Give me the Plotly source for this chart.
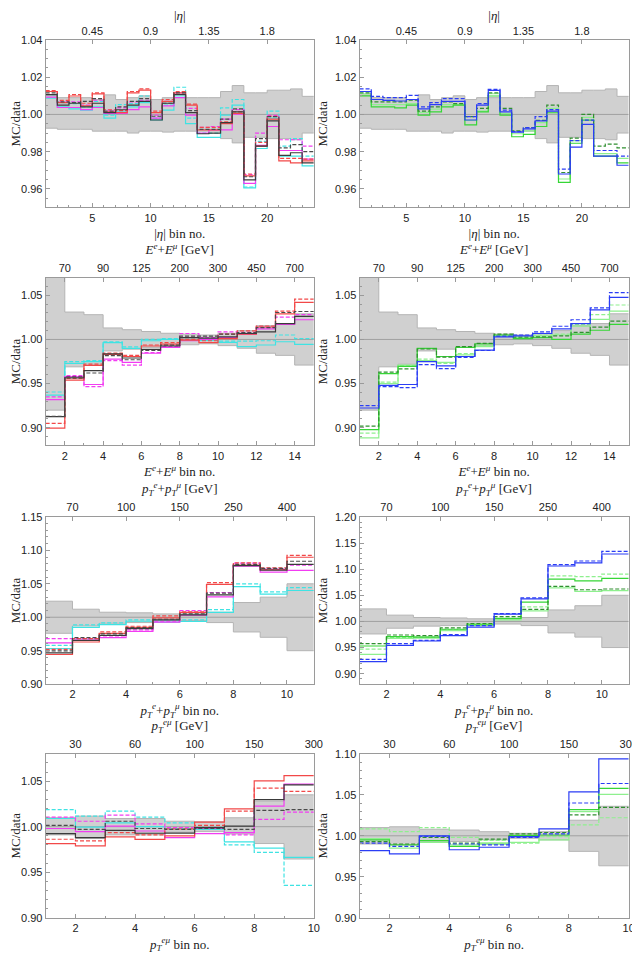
import plotly.graph_objects as go

# ---------------- data ----------------
# |eta| distribution, 23 bins
eta_band_hi = [1.0105, 1.009, 1.009, 1.009, 1.008, 1.0105, 1.008, 1.009, 1.010, 1.008, 1.009, 1.009,
               1.009, 1.009, 1.009, 1.0123, 1.0155, 1.0116, 1.0116, 1.013, 1.013, 1.0137, 1.0097]
eta_band_lo = [0.9926, 0.992, 0.992, 0.992, 0.991, 0.991, 0.991, 0.990, 0.991, 0.991, 0.9905, 0.991,
               0.991, 0.991, 0.991, 0.987, 0.9847, 0.9877, 0.9877, 0.987, 0.987, 0.9864, 0.990]
eta_left = {
    "cyan": [1.0088, 1.0041, 1.003, 1.0023, 1.0041, 0.998, 1.0014, 1.0041, 1.0063, 0.997, 1.0023, 1.0099,
             0.995, 0.9877, 0.9877, 0.9996, 1.005, 0.9605, 0.9817, 0.998, 0.9776, 0.9776, 0.9723],
    "cyan_d": [1.0106, 1.0063, 1.0058, 1.0041, 1.007, 0.9996, 1.0053, 1.0058, 1.0099, 0.998, 1.005, 1.0146,
               0.998, 0.990, 0.990, 1.0035, 1.008, 0.961, 0.9855, 1.0018, 0.983, 0.987, 0.9776],
    "magenta": [1.0093, 1.0037, 1.0037, 1.0026, 1.0037, 1.0005, 1.0005, 1.0026, 1.004, 0.998, 1.0046, 1.009,
                0.9996, 0.990, 0.9917, 0.9917, 1.0002, 0.963, 0.9834, 0.9935, 0.9806, 0.9806, 0.976],
    "magenta_d": [1.0123, 1.0067, 1.0067, 1.005, 1.0076, 1.0023, 1.0035, 1.0067, 1.0076, 0.9996, 1.007, 1.0116,
                  1.0032, 0.993, 0.9935, 0.9975, 1.0026, 0.9676, 0.990, 0.9995, 0.9864, 0.9864, 0.983],
    "red": [1.0123, 1.0063, 1.0099, 1.0046, 1.011, 1.0014, 1.001, 1.0116, 1.013, 1.001, 1.007, 1.0116,
            1.005, 0.9917, 0.9917, 0.995, 1.0005, 0.967, 0.983, 0.9975, 0.975, 0.974, 0.975],
    "red_d": [1.0128, 1.0075, 1.0106, 1.006, 1.0116, 1.0025, 1.002, 1.0123, 1.0137, 1.0018, 1.008, 1.0123,
              1.0055, 0.993, 0.993, 0.996, 1.0014, 0.968, 0.985, 0.999, 0.9764, 0.9764, 0.976],
    "black": [1.0106, 1.005, 1.006, 1.004, 1.006, 1.001, 1.0025, 1.005, 1.007, 0.997, 1.006, 1.0106,
              1.001, 0.9896, 0.990, 0.9956, 1.0014, 0.9648, 0.983, 0.9965, 0.978, 0.9794, 0.974],
    "black_d": [1.0116, 1.0067, 1.0064, 1.007, 1.0085, 1.0018, 1.004, 1.007, 1.0085, 0.999, 1.006, 1.0116,
                1.002, 0.992, 0.992, 0.9975, 1.003, 0.9665, 0.987, 0.9988, 0.982, 0.9838, 0.980],
}
eta_right = {
    "lgreen": [1.0111, 1.0053, 1.0053, 1.0053, 1.0058, 1.0011, 1.0028, 1.0053, 1.0053, 0.9968, 1.0018, 1.0111,
               1.0005, 0.9896, 0.9912, 0.9956, 1.0032, 0.9653, 0.9859, 0.9984, 0.9789, 0.9789, 0.9764],
    "green": [1.010, 1.004, 1.004, 1.0035, 1.005, 0.9996, 1.0014, 1.004, 1.005, 0.9944, 1.0014, 1.0099,
              0.9996, 0.988, 0.9893, 0.9935, 1.0009, 0.9635, 0.9845, 0.9969, 0.9776, 0.9776, 0.974],
    "green_d": [1.0116, 1.0067, 1.0067, 1.0067, 1.0076, 1.0018, 1.004, 1.0067, 1.0058, 0.9988, 1.0032, 1.0116,
                1.0032, 0.9912, 0.9929, 0.9968, 1.005, 0.9688, 0.9873, 1.000, 0.983, 0.984, 0.982],
    "blue": [1.0123, 1.008, 1.0075, 1.0072, 1.008, 1.003, 1.0053, 1.007, 1.007, 0.997, 1.005, 1.0129,
             1.0014, 0.9905, 0.9922, 0.9965, 1.0018, 0.968, 0.9824, 0.9947, 0.9776, 0.9776, 0.9727],
    "blue_d": [1.0137, 1.0097, 1.009, 1.009, 1.0102, 1.004, 1.0063, 1.0085, 1.0085, 0.9988, 1.0058, 1.0134,
               1.0023, 0.9908, 0.9929, 0.9988, 1.0026, 0.9706, 0.9859, 0.9969, 0.9806, 0.9806, 0.9776],
}

# E^e + E^mu, 14 bins
ee_band_hi = [1.08, 1.031, 1.028, 1.013, 1.011, 1.009, 1.007, 1.006, 1.005, 1.007, 1.010, 1.0156, 1.018, 1.029]
ee_band_lo = [0.92, 0.969, 0.972, 0.987, 0.989, 0.991, 0.993, 0.994, 0.995, 0.993, 0.990, 0.9844, 0.982, 0.971]
ee_left = {
    "cyan": [0.937, 0.973, 0.975, 0.9963, 0.990, 0.9985, 1.000, 0.999, 0.999, 0.9967, 0.9918, 0.9937, 0.9974, 0.9944],
    "cyan_d": [0.9405, 0.975, 0.976, 0.9974, 0.9915, 1.000, 1.001, 1.000, 1.000, 0.998, 0.998, 0.9985, 1.005, 1.001],
    "magenta": [0.932, 0.958, 0.949, 0.9777, 0.974, 0.9844, 0.991, 0.9985, 1.000, 1.002, 1.006, 1.012, 1.017, 1.0223],
    "magenta_d": [0.935, 0.959, 0.9465, 0.976, 0.971, 0.985, 0.992, 1.0067, 1.002, 1.0085, 1.008, 1.014, 1.0253, 1.028],
    "red": [0.8996, 0.954, 0.9706, 0.983, 0.9807, 0.9926, 0.9948, 0.9993, 0.9963, 1.001, 1.006, 1.0141, 1.029, 1.042],
    "red_d": [0.905, 0.956, 0.972, 0.9845, 0.982, 0.9937, 0.9963, 1.000, 0.9985, 1.006, 1.0097, 1.0152, 1.032, 1.0457],
    "black": [0.9126, 0.9565, 0.9647, 0.9836, 0.979, 0.9888, 0.9926, 1.002, 1.0015, 1.003, 1.0067, 1.0085, 1.0178, 1.026],
    "black_d": [0.913, 0.9576, 0.962, 0.9818, 0.977, 0.9875, 0.9935, 1.0037, 1.0037, 1.006, 1.0078, 1.0134, 1.0305, 1.0316],
}
ee_right = {
    "lgreen": [0.8886, 0.950, 0.971, 0.976, 0.974, 0.9825, 0.9918, 1.004, 1.002, 1.004, 1.005, 1.015, 1.0227, 1.032],
    "lgreen_d": [0.894, 0.9517, 0.9705, 0.9777, 0.973, 0.984, 0.993, 1.005, 1.003, 1.005, 1.006, 1.017, 1.028, 1.039],
    "green": [0.898, 0.9614, 0.9696, 0.990, 0.9807, 0.991, 0.995, 1.005, 1.001, 1.002, 1.000, 1.006, 1.0104, 1.017],
    "green_d": [0.902, 0.963, 0.9666, 0.9892, 0.980, 0.9918, 0.9955, 1.006, 1.0026, 1.003, 1.004, 1.008, 1.014, 1.0208],
    "blue": [0.9224, 0.948, 0.949, 0.975, 0.970, 0.9807, 0.988, 1.003, 1.004, 1.0067, 1.012, 1.018, 1.0334, 1.0475],
    "blue_d": [0.925, 0.9465, 0.9454, 0.9714, 0.967, 0.9796, 0.9875, 1.0037, 1.005, 1.0085, 1.0149, 1.0223, 1.0357, 1.053],
}

# pT^e + pT^mu, 10 bins
pt_band_hi = [1.024, 1.012, 1.0075, 1.0066, 1.005, 1.005, 1.0075, 1.022, 1.030, 1.050]
pt_band_lo = [0.976, 0.987, 0.991, 0.992, 0.995, 0.995, 0.992, 0.978, 0.970, 0.950]
pt_left = {
    "cyan": [0.953, 0.985, 0.989, 0.994, 0.9926, 0.9936, 1.0074, 1.0458, 1.0345, 1.040],
    "cyan_d": [0.958, 0.9887, 0.9916, 0.996, 0.996, 0.996, 1.0113, 1.050, 1.038, 1.0443],
    "magenta": [0.9616, 0.966, 0.9695, 0.979, 0.9926, 1.003, 1.0305, 1.0765, 1.0675, 1.070],
    "magenta_d": [0.968, 0.968, 0.972, 0.981, 0.994, 1.010, 1.037, 1.081, 1.072, 1.078],
    "red": [0.9443, 0.963, 0.976, 0.985, 0.999, 1.0074, 1.049, 1.078, 1.071, 1.0897],
    "red_d": [0.952, 0.968, 0.978, 0.9865, 1.002, 1.008, 1.0517, 1.0813, 1.074, 1.0926],
    "black": [0.9468, 0.9655, 0.973, 0.983, 0.996, 1.0035, 1.0335, 1.0773, 1.0704, 1.079],
    "black_d": [0.9498, 0.9695, 0.975, 0.9845, 0.997, 1.005, 1.036, 1.079, 1.073, 1.0837],
}
pt_right = {
    "lgreen": [0.937, 0.9675, 0.968, 0.9825, 0.993, 1.003, 1.020, 1.064, 1.0575, 1.059],
    "lgreen_d": [0.947, 0.969, 0.9705, 0.984, 0.996, 1.004, 1.028, 1.087, 1.0856, 1.0906],
    "green": [0.953, 0.971, 0.970, 0.985, 0.9935, 1.006, 1.037, 1.081, 1.0775, 1.0825],
    "green_d": [0.9575, 0.974, 0.973, 0.9875, 0.996, 1.009, 1.023, 1.067, 1.0606, 1.062],
    "blue": [0.923, 0.954, 0.9625, 0.973, 0.989, 1.0138, 1.043, 1.106, 1.112, 1.129],
    "blue_d": [0.9275, 0.9575, 0.9638, 0.975, 0.9919, 1.015, 1.045, 1.1088, 1.1156, 1.134],
}

# pT^{e mu}, 9 bins
ptem_band_hi_l = [1.0098, 1.0116, 1.009, 1.009, 1.006, 1.0054, 1.0098, 1.028, 1.035]
ptem_band_lo_l = [0.991, 0.987, 0.991, 0.991, 0.994, 0.9946, 0.992, 0.9815, 0.9645]
ptem_band_hi_r = [1.010, 1.011, 1.008, 1.007, 1.005, 1.003, 1.005, 1.019, 1.036]
ptem_band_lo_r = [0.990, 0.989, 0.992, 0.993, 0.995, 0.997, 0.995, 0.981, 0.9634]
ptem_left = {
    "cyan": [1.009, 0.9996, 1.0043, 1.000, 0.998, 0.997, 0.9833, 0.9765, 0.9663],
    "cyan_d": [1.0188, 1.0116, 1.017, 1.0105, 1.0043, 0.999, 0.980, 0.9717, 0.9355],
    "magenta": [0.998, 0.9946, 1.0007, 0.9953, 0.988, 0.9924, 0.9935, 1.0225, 1.0467],
    "magenta_d": [1.0105, 1.006, 1.0127, 1.003, 0.999, 0.998, 0.991, 1.008, 1.016],
    "red": [0.9815, 0.979, 0.9888, 0.986, 0.9899, 1.005, 1.0196, 1.0504, 1.056],
    "red_d": [0.9862, 0.9844, 0.9935, 0.991, 0.9975, 1.0014, 1.017, 1.0424, 1.0388],
    "black": [0.9924, 0.988, 0.996, 0.9928, 0.993, 0.999, 1.0007, 1.0297, 1.046],
    "black_d": [1.0014, 0.997, 1.006, 0.998, 0.997, 0.998, 0.997, 1.018, 1.0188],
}
ptem_right = {
    "lgreen": [0.9965, 0.985, 0.992, 0.989, 0.9915, 0.992, 0.995, 1.0295, 1.0505],
    "lgreen_d": [1.0085, 1.005, 1.010, 0.998, 0.9943, 0.991, 0.999, 1.0133, 1.022],
    "green": [0.995, 0.989, 0.994, 0.987, 0.990, 1.0005, 1.001, 1.032, 1.058],
    "green_d": [0.993, 0.990, 0.998, 0.991, 0.996, 1.0024, 1.004, 1.0255, 1.0347],
    "blue": [0.982, 0.978, 1.000, 0.983, 0.986, 0.999, 1.0085, 1.0537, 1.094],
    "blue_d": [0.991, 0.987, 0.9992, 0.990, 0.989, 0.998, 1.0024, 1.040, 1.0638],
}

# axis labels / ticks
eta_top_vals, eta_top_text = [5, 10, 15, 20], ["0.45", "0.9", "1.35", "1.8"]
ee_top_vals, ee_top_text = [2, 4, 6, 8, 10, 12, 14], ["70", "90", "125", "200", "300", "450", "700"]
pt_top_vals, pt_top_text = [2, 4, 6, 8, 10], ["70", "100", "150", "250", "400"]
ptem_top_vals, ptem_top_text = [2, 4, 6, 8, 10], ["30", "60", "100", "150", "300"]

styles = {
    "cyan": ("#3fe3e3", "solid"), "cyan_d": ("#3fe3e3", "dash"),
    "magenta": ("#f23cf2", "solid"), "magenta_d": ("#f23cf2", "dash"),
    "red": ("#f24848", "solid"), "red_d": ("#f24848", "dash"),
    "black": ("#3a3a3a", "solid"), "black_d": ("#4a4a4a", "dash"),
    "lgreen": ("#8ef08e", "solid"), "lgreen_d": ("#8ef08e", "dash"),
    "green": ("#36d636", "solid"), "green_d": ("#2f8f2f", "dash"),
    "blue": ("#2b3df5", "solid"), "blue_d": ("#2b3df5", "dash"),
}

SERIF = "Liberation Serif, Times New Roman, serif"
SANS = "Liberation Sans, Arial, sans-serif"

eta_t = "|<i>η</i>|"
ee_t = "<i>E</i><sup><i>e</i></sup>+<i>E</i><sup><i>μ</i></sup>"
pt_t = "<i>p</i><sub><i>T</i></sub><sup><i>e</i></sup>+<i>p</i><sub><i>T</i></sub><sup><i>μ</i></sup>"
ptem_t = "<i>p</i><sub><i>T</i></sub><sup><i>eμ</i></sup>"

panels = [
    # series, band_hi, band_lo, yrange, ydtick, yminor, top vals, top text, top title, bottom title, bottom dtick
    (eta_left, eta_band_hi, eta_band_lo, [0.95, 1.04], 0.02, 0.005, eta_top_vals, eta_top_text, eta_t, eta_t + " bin no.", 5),
    (eta_right, eta_band_hi, eta_band_lo, [0.95, 1.04], 0.02, 0.005, eta_top_vals, eta_top_text, eta_t, eta_t + " bin no.", 5),
    (ee_left, ee_band_hi, ee_band_lo, [0.88, 1.07], 0.05, 0.01, ee_top_vals, ee_top_text, ee_t + " [GeV]", ee_t + " bin no.", 2),
    (ee_right, ee_band_hi, ee_band_lo, [0.88, 1.07], 0.05, 0.01, ee_top_vals, ee_top_text, ee_t + " [GeV]", ee_t + " bin no.", 2),
    (pt_left, pt_band_hi, pt_band_lo, [0.90, 1.15], 0.05, 0.01, pt_top_vals, pt_top_text, pt_t + " [GeV]", pt_t + " bin no.", 2),
    (pt_right, pt_band_hi, pt_band_lo, [0.88, 1.20], 0.05, 0.01, pt_top_vals, pt_top_text, pt_t + " [GeV]", pt_t + " bin no.", 2),
    (ptem_left, ptem_band_hi_l, ptem_band_lo_l, [0.90, 1.08], 0.05, 0.01, ptem_top_vals, ptem_top_text, ptem_t + " [GeV]", ptem_t + " bin no.", 2),
    (ptem_right, ptem_band_hi_r, ptem_band_lo_r, [0.90, 1.10], 0.05, 0.01, ptem_top_vals, ptem_top_text, ptem_t + " [GeV]", ptem_t + " bin no.", 2),
]

# the page body has an 8px margin, so the figure is made 8px smaller each way
W, H = 632, 949
col_dom = [[0.0559, 0.4884], [0.5622, 0.9963]]
row_dom = [[0.7935, 0.9723], [0.5395, 0.7187], [0.2848, 0.4633], [0.0355, 0.2104]]

fig = go.Figure()
layout = {}


def steps(vals):
    x = list(range(1, len(vals) + 2))
    y = list(vals) + [vals[-1]]
    return x, y


for i, (series, bhi, blo, yr, ydt, ymin, tv, tt, ttitle, btitle, bdt) in enumerate(panels):
    r, c = divmod(i, 2)
    xb = "x%d" % (2 * i + 1)
    xt = "x%d" % (2 * i + 2)
    ya = "y%d" % (i + 1)
    n = len(bhi)
    xr = [1, n + 1]

    bx, by_lo = steps(blo)
    _, by_hi = steps(bhi)
    fig.add_trace(go.Scatter(x=bx, y=by_lo, xaxis=xb, yaxis=ya, mode="lines", line_shape="hv",
                             line=dict(color="#b4b4b4", width=1), showlegend=False, hoverinfo="skip"))
    fig.add_trace(go.Scatter(x=bx, y=by_hi, xaxis=xb, yaxis=ya, mode="lines", line_shape="hv",
                             fill="tonexty", fillcolor="#d0d0d0",
                             line=dict(color="#b4b4b4", width=1), showlegend=False, hoverinfo="skip"))
    fig.add_trace(go.Scatter(x=xr, y=[1, 1], xaxis=xb, yaxis=ya, mode="lines",
                             line=dict(color="#a0a0a0", width=1), showlegend=False, hoverinfo="skip"))
    for name, vals in series.items():
        col, dash = styles[name]
        sx, sy = steps(vals)
        fig.add_trace(go.Scatter(x=sx, y=sy, xaxis=xb, yaxis=ya, mode="lines", line_shape="hv",
                                 line=dict(color=col, width=1.2, dash="4px,2px" if dash == "dash" else "solid"),
                                 name=name, showlegend=False))
    # dummy trace so the top axis is drawn
    fig.add_trace(go.Scatter(x=xr, y=[1, 1], xaxis=xt, yaxis=ya, mode="lines",
                             line=dict(width=0, color="rgba(0,0,0,0)"), showlegend=False, hoverinfo="skip"))

    axis_common = dict(showgrid=False, zeroline=False, showline=True, linecolor="#9a9a9a", linewidth=1,
                       ticks="inside", ticklen=4, tickcolor="#9a9a9a",
                       tickfont=dict(family=SANS, size=11, color="#222"))
    layout["xaxis%d" % (2 * i + 1)] = dict(
        axis_common, domain=col_dom[c], anchor=ya, range=xr, tick0=0, dtick=bdt,
        minor=dict(ticks="inside", ticklen=2, dtick=1, tickcolor="#9a9a9a"),
        title=dict(text=btitle, font=dict(family=SERIF, size=13, color="#222"), standoff=6))
    layout["xaxis%d" % (2 * i + 2)] = dict(
        axis_common, overlaying=xb, side="top", anchor=ya, range=xr,
        tickmode="array", tickvals=tv, ticktext=tt,
        title=dict(text=ttitle, font=dict(family=SERIF, size=13, color="#222"), standoff=4))
    layout["yaxis%d" % (i + 1)] = dict(
        axis_common, domain=row_dom[r], anchor=xb, range=yr, tick0=0, dtick=ydt, tickformat=".2f",
        mirror=True,
        minor=dict(ticks="inside", ticklen=2, dtick=ymin, tickcolor="#9a9a9a"),
        title=dict(text="MC/data", font=dict(family=SERIF, size=13, color="#222"), standoff=4))

fig.update_layout(width=W, height=H, margin=dict(l=0, r=0, t=0, b=0),
                  paper_bgcolor="white", plot_bgcolor="white", showlegend=False, **layout)

fig.write_html("out.html")
